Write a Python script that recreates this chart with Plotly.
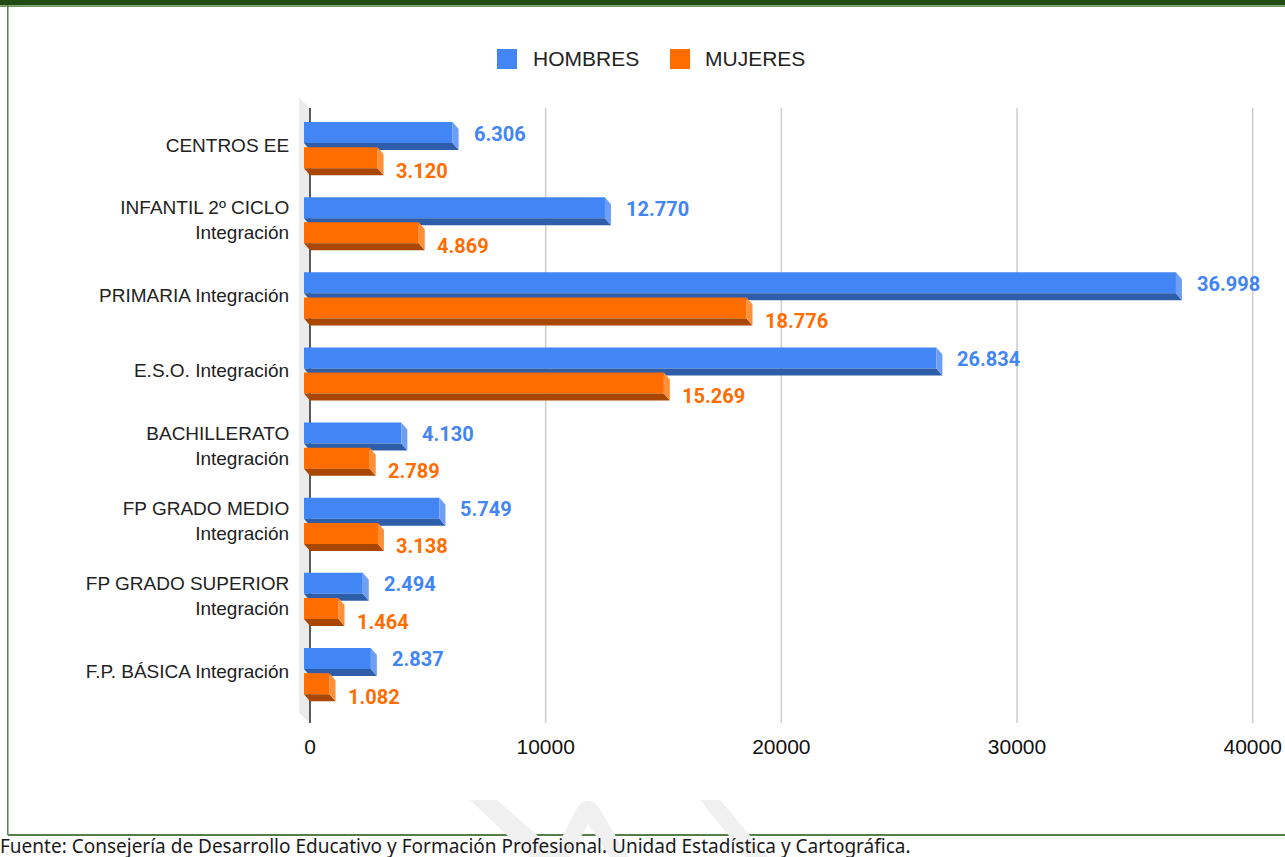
import plotly.graph_objects as go

# ---------------- data ----------------
categories = [
    "CENTROS EE",
    "INFANTIL 2º CICLO<br>Integración",
    "PRIMARIA Integración",
    "E.S.O. Integración",
    "BACHILLERATO<br>Integración",
    "FP GRADO MEDIO<br>Integración",
    "FP GRADO SUPERIOR<br>Integración",
    "F.P. BÁSICA Integración",
]
hombres = [6306, 12770, 36998, 26834, 4130, 5749, 2494, 2837]
mujeres = [3120, 4869, 18776, 15269, 2789, 3138, 1464, 1082]
series_names = ["HOMBRES", "MUJERES"]
x_ticks = [0, 10000, 20000, 30000, 40000]
x_tick_labels = ["0", "10000", "20000", "30000", "40000"]
source_text = "Fuente: Consejería de Desarrollo Educativo y Formación Profesional. Unidad Estadística y Cartográfica."

# ---------------- styling / geometry ----------------
W, H = 1285, 857
L, R, T, B = 296, 1276, 96, 726          # plot area in pixels
X0PX, PPX = 310, 942.7 / 40000           # pixel of x=0, px per unit
Y0PX, PITCH = 145, 75.14                 # pixel of first category, px per category
DX = 6 / PPX                             # 3D depth (x), data units
DY = 7 / PITCH                           # 3D depth (y), data units
BAR_W = 21 / PITCH
OFFS = [-12.5 / PITCH, 12.7 / PITCH]

FRONT = ["#4285F4", "#FF6D01"]
BOTTOM = ["#2E5DA9", "#A94700"]
SIDE = ["#6E9FF6", "#FF9035"]
LABEL = ["#4285F4", "#FF6D01"]

x_range = [(L - X0PX) / PPX, (R - X0PX) / PPX]
y_range = [(B - Y0PX) / PITCH, (T - Y0PX) / PITCH]


def xd(px):
    return (px - X0PX) / PPX


def yd(py):
    return (py - Y0PX) / PITCH


def xp(px):
    return (px - L) / (R - L)


def yp(py):
    return (B - py) / (B - T)


def fmt(v):
    return f"{v:,}".replace(",", ".")


fig = go.Figure()
annotations = []
series_values = [hombres, mujeres]

for s, vals in enumerate(series_values):
    xa = "x" if s == 0 else "x2"
    ya = "y" if s == 0 else "y2"
    ys = [i + OFFS[s] for i in range(len(vals))]
    # front faces (real bars)
    fig.add_trace(go.Bar(
        y=ys, x=vals, base=[-DX] * len(vals), orientation="h",
        width=BAR_W, marker=dict(color=FRONT[s], line=dict(width=0)),
        name=series_names[s], showlegend=False, hoverinfo="x+name",
        xaxis=xa, yaxis=ya,
    ))
    # bottom faces
    bx, by = [], []
    for v, y in zip(vals, ys):
        yb = y + BAR_W / 2
        bx += [-DX, v - DX, v, 0, -DX, None]
        by += [yb, yb, yb + DY, yb + DY, yb, None]
    fig.add_trace(go.Scatter(
        x=bx, y=by, mode="lines", fill="toself", fillcolor=BOTTOM[s],
        line=dict(width=0, color=BOTTOM[s]), hoverinfo="skip",
        showlegend=False, xaxis=xa, yaxis=ya,
    ))
    # right faces
    rx, ry = [], []
    for v, y in zip(vals, ys):
        yt = y - BAR_W / 2
        yb = y + BAR_W / 2
        rx += [v - DX, v, v, v - DX, v - DX, None]
        ry += [yt, yt + DY, yb + DY, yb, yt, None]
    fig.add_trace(go.Scatter(
        x=rx, y=ry, mode="lines", fill="toself", fillcolor=SIDE[s],
        line=dict(width=0, color=SIDE[s]), hoverinfo="skip",
        showlegend=False, xaxis=xa, yaxis=ya,
    ))
    # value labels
    for v, y in zip(vals, ys):
        annotations.append(dict(
            x=v, y=y, xref="x", yref="y", text=fmt(v), showarrow=False,
            xanchor="left", yanchor="middle",
            xshift=13 if s == 0 else 10, yshift=-1 if s == 0 else -13,
            font=dict(family="Roboto", size=20, color=LABEL[s], weight="bold"),
        ))

shapes = []
# side wall
shapes.append(dict(
    type="path", xref="x", yref="y", layer="below",
    path=(f"M {xd(299)},{yd(98)} L {xd(310)},{yd(108)} L {xd(310)},{yd(723)} "
          f"L {xd(299)},{yd(713)} Z"),
    fillcolor="#EBEBEB", line=dict(width=0),
))
# gridlines
for t in x_ticks[1:]:
    shapes.append(dict(type="line", xref="x", yref="y", layer="below",
                       x0=t, x1=t, y0=yd(108), y1=yd(723),
                       line=dict(color="#CFCFCF", width=1.6)))
shapes.append(dict(type="line", xref="x", yref="y", layer="below",
                   x0=0, x1=0, y0=yd(108), y1=yd(723),
                   line=dict(color="#333333", width=1.6)))

# legend (manual, large squares)
leg = [(497, 533), (670, 705)]
for s, (sx, tx) in enumerate(leg):
    shapes.append(dict(type="rect", xref="paper", yref="paper",
                       x0=xp(sx), x1=xp(sx + 20), y0=yp(69), y1=yp(49),
                       fillcolor=FRONT[s], line=dict(width=0)))
    annotations.append(dict(x=xp(tx - 2), y=yp(59), xref="paper", yref="paper",
                            text=series_names[s], showarrow=False,
                            xanchor="left", yanchor="middle",
                            font=dict(family="Liberation Sans", size=21, color="#222222")))

# frame decorations
shapes.append(dict(type="rect", xref="paper", yref="paper", layer="below",
                   x0=xp(0), x1=xp(W), y0=yp(0), y1=yp(5.5),
                   fillcolor="#1F4A12", line=dict(width=0)))
shapes.append(dict(type="line", xref="paper", yref="paper", layer="below",
                   x0=xp(0), x1=xp(W), y0=yp(6.3), y1=yp(6.3),
                   line=dict(color="#6E9A5E", width=1.2)))
shapes.append(dict(type="line", xref="paper", yref="paper", layer="below",
                   x0=xp(7.8), x1=xp(7.8), y0=yp(5), y1=yp(835),
                   line=dict(color="#4A7A3A", width=1.4)))
shapes.append(dict(type="line", xref="paper", yref="paper", layer="below",
                   x0=xp(8), x1=xp(W), y0=yp(835), y1=yp(835),
                   line=dict(color="#557F45", width=1.8)))
# watermark
wm = "#F0F0F0"
shapes.append(dict(type="path", xref="paper", yref="paper", layer="below",
                   path=f"M {xp(470)},{yp(800)} L {xp(497)},{yp(800)} L {xp(562)},{yp(857)} L {xp(530)},{yp(857)} Z",
                   fillcolor=wm, line=dict(width=0)))
shapes.append(dict(type="path", xref="paper", yref="paper", layer="below",
                   path=(f"M {xp(552)},{yp(857)} L {xp(578)},{yp(806)} Q {xp(588)},{yp(796)} {xp(598)},{yp(806)} "
                         f"L {xp(628)},{yp(857)} L {xp(610)},{yp(857)} L {xp(588)},{yp(824)} L {xp(570)},{yp(857)} Z"),
                   fillcolor=wm, line=dict(width=0)))
shapes.append(dict(type="path", xref="paper", yref="paper", layer="below",
                   path=f"M {xp(700)},{yp(800)} L {xp(720)},{yp(800)} L {xp(768)},{yp(857)} L {xp(746)},{yp(857)} Z",
                   fillcolor=wm, line=dict(width=0)))

# source footnote
annotations.append(dict(x=xp(-2), y=yp(846), xref="paper", yref="paper",
                        text=source_text, showarrow=False, xanchor="left", yanchor="middle",
                        font=dict(family="Noto Sans", size=19, color="#1A1A1A")))

fig.update_layout(
    width=W, height=H,
    margin=dict(l=L, r=W - R, t=T, b=H - B, pad=0, autoexpand=False),
    paper_bgcolor="white", plot_bgcolor="white",
    barmode="overlay", showlegend=False,
    xaxis=dict(range=x_range, tickvals=x_ticks, ticktext=x_tick_labels,
               showgrid=False, zeroline=False, showline=False, automargin=False,
               ticks="outside", ticklen=2, tickcolor="rgba(0,0,0,0)",
               tickfont=dict(family="Liberation Sans", size=21, color="#111111")),
    yaxis=dict(range=y_range, tickvals=list(range(len(categories))), ticktext=categories,
               showgrid=False, zeroline=False, showline=False, automargin=False,
               ticks="outside", ticklen=2, tickcolor="rgba(0,0,0,0)",
               tickfont=dict(family="Liberation Sans", size=19, color="#222222")),
    xaxis2=dict(range=x_range, overlaying="x", visible=False, automargin=False),
    yaxis2=dict(range=y_range, overlaying="y", visible=False, automargin=False),
    shapes=shapes, annotations=annotations,
    font=dict(family="Liberation Sans"),
)

fig.write_html("out.html", config={"displayModeBar": False},
               post_script="document.body.style.margin='0';")
